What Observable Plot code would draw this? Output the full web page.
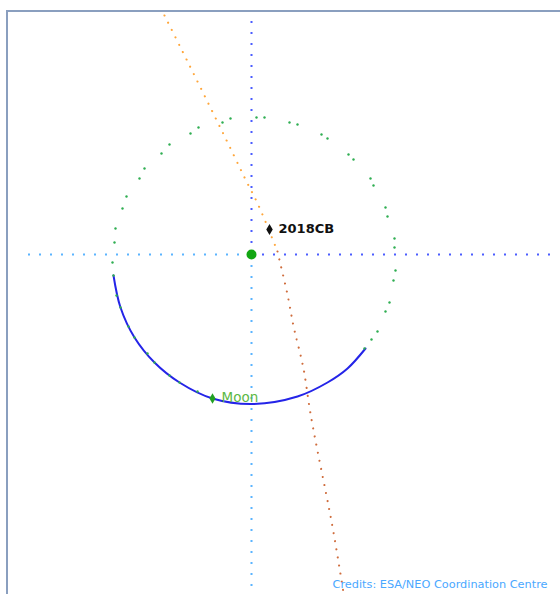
<!DOCTYPE html>
<html>
<head>
<meta charset="utf-8">
<script src="https://cdn.jsdelivr.net/npm/d3@7"></script>
<script src="https://cdn.jsdelivr.net/npm/@observablehq/plot@0.6"></script>
<style>
  html, body { margin: 0; padding: 0; background: #fff; }
  #wrap { position: relative; width: 560px; height: 594px; overflow: hidden; }
  #frame { position: absolute; left: 6px; top: 10px; right: -4px; bottom: -4px;
           border-top: 2px solid #8a9fbf; border-left: 2px solid #8a9fbf; }
  #chart { position: absolute; left: 0; top: 0; }
</style>
</head>
<body>
<div id="wrap"><div id="frame"></div><div id="chart"></div></div>
<script>
// Earth-centred plane, units ≈ 2,700 km (Moon orbit radius ≈ 142 units)
const axisLeft = [-223, 0];
const axisRight = [0, 301];
const axisTop = [233, 0];
const axisBottom = [0, -336];

// Daily positions of the Moon along its orbit (dotted)
const moonOrbitDots = [
  [13,137],[5,137],[-21,136],[-29,132],[-53,127],[-61,121],[-82,110],[-90,101],
  [-107,86],[-112,76],[-125,58],[-129,46],[-136,26],[-137,12],[-139,-8],[-138,-21],
  [-135,-41],[-131,-53],[-123,-72],[-117,-83],[-104,-99],[-97,-108],[-82,-121],[-72,-128],[-54,-137],
  [38,132],[46,130],[70,120],[76,116],[97,100],[102,95],[119,76],[122,69],
  [134,47],[136,38],[143,16],[143,7],[144,-16],[142,-26],[138,-48],[134,-57],
  [126,-77],[120,-85],[113,-94]
];

// Highlighted arc of the Moon's orbit
const moonArc = [
  [-138,-21],[-131,-53],[-117,-83],[-97,-108],[-72,-128],[-39,-144],
  [1,-149.5],[46,-142],[76,-128],[96,-114],[114,-94]
];

// Trajectory of 2018 CB: inbound (orange) and outbound (brown)
const trackIn = [
  [-87,239],[-56,177],[-21,106],[-4,71],[7,49],[20,18],[26,3]
];
const trackOut = [
  [26,3],[30,-14],[37,-45],[43,-76],[52,-114],
  [59,-159],[72,-226],[82,-278],[92,-338]
];

const earth = [[0, 0]];
const moonPos = [[-39, -144, "Moon"]];
const asteroidPos = [[18, 25, "2018CB"]];
const credits = "Credits: ESA/NEO Coordination Centre";

const font = "'DejaVu Sans', Verdana, sans-serif";
const dotted = {strokeWidth: 2, strokeDasharray: "2 9", strokeLinecap: "butt"};
const dots = {strokeWidth: 2.1, strokeDasharray: "0.01 8.2", strokeLinecap: "round"};

const chart = Plot.plot({
  width: 560,
  height: 594,
  margin: 0,
  x: {domain: [-251, 309], axis: null},
  y: {domain: [-340, 254], axis: null},
  style: {fontFamily: font, background: "transparent"},
  marks: [
    Plot.ruleY([0], {x1: axisLeft[0], x2: axisLeft[1], stroke: "#5ab4ff", ...dotted}),
    Plot.ruleY([0], {x1: axisRight[0], x2: axisRight[1], stroke: "#4b5cff", ...dotted}),
    Plot.ruleX([0], {y1: axisTop[0], y2: axisTop[1], stroke: "#4b5cff", ...dotted}),
    Plot.ruleX([0], {y1: axisBottom[0], y2: axisBottom[1], stroke: "#5ab4ff", ...dotted}),
    Plot.line(moonArc, {x: d => d[0], y: d => d[1], stroke: "#2424e8", strokeWidth: 2, curve: "catmull-rom"}),
    Plot.dot(moonOrbitDots, {x: d => d[0], y: d => d[1], r: 1.2, fill: "#2fae52", stroke: "none"}),
    Plot.line(trackIn, {x: d => d[0], y: d => d[1], stroke: "#ffa63a", ...dots, curve: "natural"}),
    Plot.line(trackOut, {x: d => d[0], y: d => d[1], stroke: "#cf6c3c", ...dots, curve: "natural"}),
    Plot.dot(earth, {x: d => d[0], y: d => d[1], r: 5, fill: "#12a612", stroke: "none"}),
    Plot.dot(moonPos, {x: d => d[0], y: d => d[1], symbol: "diamond", r: 3.2, fill: "#22a022", stroke: "none"}),
    Plot.text(moonPos, {x: d => d[0], y: d => d[1], text: d => d[2], dx: 9, dy: -1, textAnchor: "start", fontSize: 13.5, fill: "#5cb845"}),
    Plot.dot(asteroidPos, {x: d => d[0], y: d => d[1], symbol: "diamond", r: 3.4, fill: "#111", stroke: "none"}),
    Plot.text(asteroidPos, {x: d => d[0], y: d => d[1], text: d => d[2], dx: 9, dy: -1, textAnchor: "start", fontSize: 13, fontWeight: "bold", fill: "#111"}),
    Plot.text([credits], {frameAnchor: "bottom-right", text: d => d, dx: -13, dy: -7, fontSize: 11.3, fill: "#4aa8ff"})
  ]
});
document.getElementById("chart").appendChild(chart);
</script>
</body>
</html>
